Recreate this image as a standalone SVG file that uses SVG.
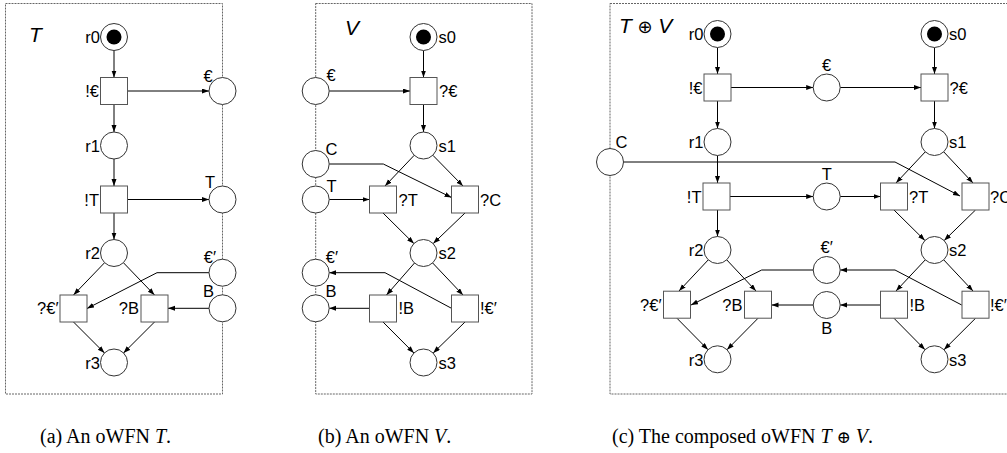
<svg xmlns="http://www.w3.org/2000/svg" width="1007" height="453" viewBox="0 0 1007 453">
<style>
.box{fill:none;stroke:#666;stroke-width:1;stroke-dasharray:2,1}
.p{fill:#fff;stroke:#333;stroke-width:1}
.tok{fill:#000}
.t{fill:#fff;stroke:#555;stroke-width:1}
.a{fill:none;stroke:#000;stroke-width:1;marker-end:url(#ah)}
text{font-family:"Liberation Sans",Arial,sans-serif;font-size:16.5px;fill:#000}
.e{text-anchor:end}
.m{text-anchor:middle}
.ti{font-style:italic;font-size:21px}
.cap{font-family:"Liberation Serif","Times New Roman",serif;font-size:20px}
</style>
<defs>
<marker id="ah" markerUnits="userSpaceOnUse" markerWidth="8" markerHeight="6" refX="7" refY="2.5" orient="auto">
<path d="M0,0 L7,2.5 L0,5 z" fill="#000"/>
</marker>
</defs>
<rect width="1007" height="453" fill="#fff"/>
<g id="frames">
<rect class="box" x="5.5" y="3.5" width="217" height="390.5"/>
<rect class="box" x="315.7" y="3.5" width="216.3" height="390.5"/>
<rect class="box" x="610" y="3.5" width="420" height="390.5"/>
<text class="ti" x="29" y="42">T</text>
<text class="ti" x="345" y="35">V</text>
<text class="ti" x="619" y="33">T<tspan font-style="normal" font-family="DejaVu Sans,sans-serif" font-size="18"> ⊕ </tspan>V</text>
</g>
<g id="connectors">
<path class="a" d="M114,50.5 L114,77.5"/>
<path class="a" d="M114,104.5 L114,132"/>
<path class="a" d="M114,159 L114,186"/>
<path class="a" d="M114,213 L114,239.5"/>
<path class="a" d="M127.5,91 L209,91"/>
<path class="a" d="M127.5,199.5 L209,199.5"/>
<path class="a" d="M104.6,262.7 L73.5,295"/>
<path class="a" d="M123.4,262.7 L154.5,295"/>
<path class="a" d="M209,272.7 L157,272.7 L87,308.5"/>
<path class="a" d="M209,308.3 L168,308.3"/>
<path class="a" d="M73.5,322 L104.5,353"/>
<path class="a" d="M154.5,322 L123.5,353"/>
<path class="a" d="M423.5,50.5 L423.5,77.5"/>
<path class="a" d="M329.2,91 L410,91"/>
<path class="a" d="M423.5,104.5 L423.5,132"/>
<path class="a" d="M414.2,155.3 L385,186"/>
<path class="a" d="M432.9,155.3 L463,186"/>
<path class="a" d="M329.2,164 L383.3,164 L451.5,197.5"/>
<path class="a" d="M329.2,199.5 L369.5,199.5"/>
<path class="a" d="M383,213 L413.9,243.6"/>
<path class="a" d="M465,213 L433.2,243.6"/>
<path class="a" d="M414.5,263 L386.5,295"/>
<path class="a" d="M432.7,263 L463,295"/>
<path class="a" d="M451.5,308.3 L385,272.7 L329.2,272.7"/>
<path class="a" d="M369.5,308.3 L329.2,308.3"/>
<path class="a" d="M383,322 L413.9,353"/>
<path class="a" d="M465,322 L433.2,353"/>
<path class="a" d="M717.5,47.5 L717.5,74"/>
<path class="a" d="M717.5,101 L717.5,128.5"/>
<path class="a" d="M717.5,155.5 L717.5,183"/>
<path class="a" d="M717.5,210 L717.5,236.5"/>
<path class="a" d="M731,87.5 L813.2,87.5"/>
<path class="a" d="M840.2,87.5 L921,87.5"/>
<path class="a" d="M934.5,47.5 L934.5,74"/>
<path class="a" d="M934.5,101 L934.5,128.5"/>
<path class="a" d="M730,196.5 L813.2,196.5"/>
<path class="a" d="M840.2,196.5 L880.5,196.5"/>
<path class="a" d="M623.5,162 L895,162 L960,196"/>
<path class="a" d="M925.3,151.8 L896,183"/>
<path class="a" d="M943.7,151.8 L973,183"/>
<path class="a" d="M894,210 L924.9,240.5"/>
<path class="a" d="M975.5,210 L944.2,240.5"/>
<path class="a" d="M925.3,259.8 L896,291"/>
<path class="a" d="M943.7,259.8 L973,291"/>
<path class="a" d="M961.7,305 L895,270 L840.2,270"/>
<path class="a" d="M880.5,305 L840.2,305"/>
<path class="a" d="M813.2,270 L761.7,270 L691,305"/>
<path class="a" d="M813.2,305 L771.5,305"/>
<path class="a" d="M708.3,259.8 L679,291"/>
<path class="a" d="M726.7,259.8 L756,291"/>
<path class="a" d="M677,318.3 L708,349.7"/>
<path class="a" d="M758,318.3 L727,349.7"/>
<path class="a" d="M894,318.3 L925,349.7"/>
<path class="a" d="M975.5,318.3 L944,349.7"/>
</g>
<g id="a_r0"><circle class="p" cx="114" cy="37" r="13.5"/><circle class="tok" cx="114" cy="37" r="7.5"/><text class="e" x="100" y="43">r0</text></g>
<g id="a_t_sendE"><rect class="t" x="100.5" y="77.5" width="27" height="27"/><text class="e" x="99" y="97">!€</text></g>
<g id="a_r1"><circle class="p" cx="114" cy="145.5" r="13.5"/><text class="e" x="100" y="151.5">r1</text></g>
<g id="a_t_sendT"><rect class="t" x="100.5" y="186" width="27" height="27"/><text class="e" x="99" y="205.5">!T</text></g>
<g id="a_r2"><circle class="p" cx="114" cy="253" r="13.5"/><text class="e" x="100" y="259">r2</text></g>
<g id="a_t_recvE2"><rect class="t" x="60" y="295" width="27" height="27"/><text class="e" x="58.5" y="314">?€′</text></g>
<g id="a_t_recvB"><rect class="t" x="141" y="295" width="27" height="27"/><text class="e" x="139" y="314">?B</text></g>
<g id="a_r3"><circle class="p" cx="114" cy="362.5" r="13.5"/><text class="e" x="100" y="368.5">r3</text></g>
<g id="a_pE"><circle class="p" cx="222.5" cy="91" r="13.5"/><text class="m" x="208" y="82">€</text></g>
<g id="a_pT"><circle class="p" cx="222.5" cy="199.5" r="13.5"/><text class="m" x="210" y="188">T</text></g>
<g id="a_pE2"><circle class="p" cx="222.5" cy="272.7" r="13.5"/><text class="m" x="210" y="263">€′</text></g>
<g id="a_pB"><circle class="p" cx="222.5" cy="308.3" r="13.5"/><text class="m" x="208.5" y="297">B</text></g>
<g id="b_s0"><circle class="p" cx="423.5" cy="37" r="13.5"/><circle class="tok" cx="423.5" cy="37" r="7.5"/><text x="438.5" y="43">s0</text></g>
<g id="b_t_recvE"><rect class="t" x="410" y="77.5" width="27" height="27"/><text x="439" y="97">?€</text></g>
<g id="b_s1"><circle class="p" cx="423.5" cy="145.5" r="13.5"/><text x="438.5" y="151.5">s1</text></g>
<g id="b_t_recvT"><rect class="t" x="369.5" y="186" width="27" height="27"/><text x="398.5" y="205.5">?T</text></g>
<g id="b_t_recvC"><rect class="t" x="451.5" y="186" width="27" height="27"/><text x="480" y="205.5">?C</text></g>
<g id="b_s2"><circle class="p" cx="423.5" cy="253" r="13.5"/><text x="438.5" y="259">s2</text></g>
<g id="b_t_sendB"><rect class="t" x="369.5" y="295" width="27" height="27"/><text x="398.5" y="314">!B</text></g>
<g id="b_t_sendE2"><rect class="t" x="451.5" y="295" width="27" height="27"/><text x="480" y="314">!€′</text></g>
<g id="b_s3"><circle class="p" cx="423.5" cy="362.5" r="13.5"/><text x="438.5" y="368.5">s3</text></g>
<g id="b_pE"><circle class="p" cx="315.7" cy="91" r="13.5"/><text class="m" x="331" y="81">€</text></g>
<g id="b_pC"><circle class="p" cx="315.7" cy="164" r="13.5"/><text class="m" x="331.5" y="155">C</text></g>
<g id="b_pT"><circle class="p" cx="315.7" cy="199.5" r="13.5"/><text class="m" x="331.5" y="191.5">T</text></g>
<g id="b_pE2"><circle class="p" cx="315.7" cy="272.7" r="13.5"/><text class="m" x="332" y="263">€′</text></g>
<g id="b_pB"><circle class="p" cx="315.7" cy="308.3" r="13.5"/><text class="m" x="331" y="297">B</text></g>
<g id="c_r0"><circle class="p" cx="717.5" cy="34" r="13.5"/><circle class="tok" cx="717.5" cy="34" r="7.5"/><text class="e" x="703.5" y="40">r0</text></g>
<g id="c_t_sendE"><rect class="t" x="704" y="74" width="27" height="27"/><text class="e" x="702.5" y="93.5">!€</text></g>
<g id="c_r1"><circle class="p" cx="717.5" cy="142" r="13.5"/><text class="e" x="703.5" y="148">r1</text></g>
<g id="c_t_sendT"><rect class="t" x="703" y="183" width="27" height="27"/><text class="e" x="701.5" y="202.5">!T</text></g>
<g id="c_r2"><circle class="p" cx="717.5" cy="250" r="13.5"/><text class="e" x="703.5" y="256">r2</text></g>
<g id="c_t_recvE2"><rect class="t" x="663.5" y="291.2" width="27" height="27"/><text class="e" x="661.5" y="310.5">?€′</text></g>
<g id="c_t_recvB"><rect class="t" x="744.5" y="291.2" width="27" height="27"/><text class="e" x="742.5" y="310.5">?B</text></g>
<g id="c_r3"><circle class="p" cx="717.5" cy="359.3" r="13.5"/><text class="e" x="703.5" y="365.5">r3</text></g>
<g id="c_s0"><circle class="p" cx="934.5" cy="34" r="13.5"/><circle class="tok" cx="934.5" cy="34" r="7.5"/><text x="949" y="40">s0</text></g>
<g id="c_t_recvE"><rect class="t" x="921" y="74" width="27" height="27"/><text x="949.5" y="93.5">?€</text></g>
<g id="c_s1"><circle class="p" cx="934.5" cy="142" r="13.5"/><text x="949" y="148">s1</text></g>
<g id="c_t_recvT"><rect class="t" x="880.5" y="183" width="27" height="27"/><text x="909" y="202.5">?T</text></g>
<g id="c_t_recvC"><rect class="t" x="962" y="183" width="27" height="27"/><text x="990" y="202.5">?C</text></g>
<g id="c_s2"><circle class="p" cx="934.5" cy="250" r="13.5"/><text x="949" y="256">s2</text></g>
<g id="c_t_sendB"><rect class="t" x="880.5" y="291.2" width="27" height="27"/><text x="909.5" y="310.5">!B</text></g>
<g id="c_t_sendE2"><rect class="t" x="962" y="291.2" width="27" height="27"/><text x="990" y="310.5">!€′</text></g>
<g id="c_s3"><circle class="p" cx="934.5" cy="359.3" r="13.5"/><text x="949" y="365.5">s3</text></g>
<g id="c_pE"><circle class="p" cx="826.7" cy="87.5" r="13.5"/><text class="m" x="826.7" y="70.5">€</text></g>
<g id="c_pT"><circle class="p" cx="826.7" cy="196.5" r="13.5"/><text class="m" x="826.7" y="180">T</text></g>
<g id="c_pE2"><circle class="p" cx="826.7" cy="270" r="13.5"/><text class="m" x="826.7" y="253">€′</text></g>
<g id="c_pB"><circle class="p" cx="826.7" cy="305" r="13.5"/><text class="m" x="826.7" y="334">B</text></g>
<g id="c_pC"><circle class="p" cx="610" cy="162" r="13.5"/><text class="m" x="621.5" y="148">C</text></g>
<g id="captions">
<text class="cap" x="40" y="443">(a) An oWFN <tspan font-style="italic">T</tspan>.</text>
<text class="cap" x="318" y="443">(b) An oWFN <tspan font-style="italic">V</tspan>.</text>
<text class="cap" x="612" y="443">(c) The composed oWFN <tspan font-style="italic">T</tspan> <tspan font-family="DejaVu Serif,serif" font-size="17">⊕</tspan> <tspan font-style="italic">V</tspan>.</text>
</g>
</svg>
